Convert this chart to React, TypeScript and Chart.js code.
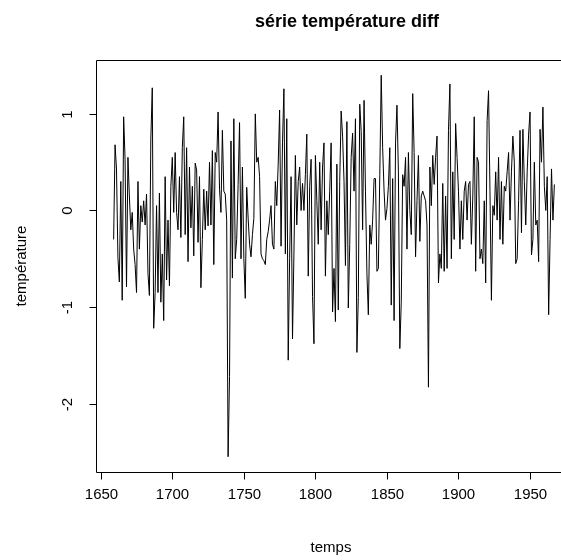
import React, { useEffect, useRef } from "react";
import { Chart, registerables } from "chart.js";

Chart.register(...registerables);

const START_YEAR = 1659;

const tempDiff: number[] = [
  // 1659-1678
  -0.30, 0.68, 0.43, -0.49, -0.74, 0.30, -0.93, 0.97, 0.53, -0.79,
  0.55, 0.15, -0.20, -0.02, -0.40, -0.56, -0.85, 0.30, -0.40, 0.05,
  // 1679-1698
  -0.12, 0.10, -0.15, 0.17, -0.65, -0.88, 0.74, 1.27, -1.22, -0.85,
  0.05, -0.85, 0.18, -0.95, -0.45, -1.14, 0.35, -0.72, -0.10, -0.78,
  // 1699-1718
  0.25, 0.55, -0.02, 0.60, -0.02, -0.20, 0.35, -0.28, 0.65, 0.97,
  -0.25, 0.65, -0.53, 0.45, -0.18, 0.25, -0.47, 0.49, 0.42, -0.33,
  // 1719-1738
  0.35, -0.80, -0.30, 0.22, -0.20, 0.20, -0.16, 0.50, -0.15, 0.62,
  -0.56, 0.60, 0.50, 1.02, 0.22, -0.02, 0.83, 0.20, 0.17, -0.10,
  // 1739-1758
  -2.55, -1.72, 0.72, -0.70, 0.95, -0.50, -0.30, 0.27, 0.91, -0.50,
  0.45, -0.50, -0.91, 0.24, -0.08, -0.35, -0.48, -0.25, -0.08, 1.00,
  // 1759-1778
  0.50, 0.55, 0.35, -0.45, -0.50, -0.52, -0.56, -0.30, -0.22, -0.10,
  0.05, -0.35, -0.40, 0.30, 0.05, 0.48, 1.04, -0.37, 0.70, 1.26,
  // 1779-1798
  -0.45, 0.95, -1.55, -0.50, 0.35, -1.33, -0.45, 0.57, -0.15, 0.30,
  0.45, 0.00, 0.28, 0.00, 0.37, 0.79, -0.68, 0.25, 0.53, -0.89,
  // 1799-1818
  -1.38, 0.57, 0.10, -0.35, 0.50, -0.20, 0.45, 0.70, -0.68, 0.10,
  -0.25, 0.20, 0.70, -1.05, -0.60, -1.15, 0.48, -1.03, 0.30, 1.03,
  // 1819-1838
  0.77, 0.30, -0.57, 0.92, -1.01, -0.35, 0.55, 0.80, 0.20, 0.95,
  -1.47, -0.90, 1.10, 0.82, -0.20, 1.14, 0.20, -0.65, -1.08, -0.15,
  // 1839-1858
  -0.35, -0.10, 0.33, 0.33, -0.63, -0.60, 0.37, 1.40, 0.65, 0.20,
  -0.10, 0.02, 0.25, 0.65, -0.98, 0.33, -1.14, 0.70, 1.09, 0.40,
  // 1859-1878
  -1.43, -0.95, 0.37, 0.25, 0.55, -0.40, 0.60, 0.00, -0.25, 1.21,
  0.60, -0.48, 0.10, 0.57, -0.32, 0.15, 0.20, 0.15, 0.10, -0.15,
  // 1879-1898
  -1.83, 0.45, 0.05, 0.57, 0.27, 0.55, 0.77, -0.75, -0.45, -0.60,
  0.28, -0.63, 0.15, -0.60, 0.83, 1.31, -0.50, 0.40, -0.30, 0.90,
  // 1899-1918
  0.55, 0.20, -0.40, 0.10, -0.30, 0.20, 0.30, -0.10, 0.27, 0.30,
  -0.35, 0.15, 0.97, -0.63, 0.55, 0.50, -0.50, -0.40, -0.55, 0.10,
  // 1919-1938
  -0.75, 0.93, 1.24, 0.20, -0.93, 0.05, -0.05, 0.40, -0.10, 0.55,
  -0.30, 0.30, -0.35, 0.25, 0.20, 0.40, 0.60, -0.10, 0.40, 0.77,
  // 1939-1958
  0.50, -0.55, -0.50, 0.10, 0.83, -0.23, 0.84, 0.30, -0.15, 0.40,
  0.79, 1.02, -0.46, -0.30, 0.50, -0.15, -0.10, -0.53, 0.84, 0.50,
  // 1959-1967
  1.07, 0.25, 0.00, 0.35, -1.08, -0.30, 0.43, -0.10, 0.27,
];

const years: number[] = tempDiff.map((_, i) => START_YEAR + i);

const xTicks = [1650, 1700, 1750, 1800, 1850, 1900, 1950];
const yTicks = [-2, -1, 0, 1];
const yTickLabels = ["-2", "-1", "0", "1"];

const TITLE = "série température diff";
const X_LABEL = "temps";
const Y_LABEL = "température";

const FONT = '"Liberation Sans", Arial, sans-serif';
const CANVAS_W = 600;
const CANVAS_H = 560;

// R-style 4% axis extension
const xMin = Math.min(...years);
const xMax = Math.max(...years);
const yMin = Math.min(...tempDiff);
const yMax = Math.max(...tempDiff);
const xPad = (xMax - xMin) * 0.04;
const yPad = (yMax - yMin) * 0.04;

const rAxesPlugin = {
  id: "rAxes",
  afterDraw(chart: any) {
    const { ctx, chartArea: a, scales } = chart;
    const xs = scales.x;
    const ys = scales.y;
    ctx.save();
    ctx.strokeStyle = "#000";
    ctx.fillStyle = "#000";
    ctx.lineWidth = 1;

    const L = Math.round(a.left) + 0.5;
    const R = Math.round(a.right) + 0.5;
    const T = Math.round(a.top) + 0.5;
    const B = Math.round(a.bottom) + 0.5;
    ctx.beginPath();
    ctx.rect(L, T, R - L, B - T);
    ctx.stroke();

    // x axis ticks + labels
    ctx.font = `15px ${FONT}`;
    ctx.textAlign = "center";
    ctx.textBaseline = "middle";
    xTicks.forEach((t) => {
      const px = Math.round(xs.getPixelForValue(t)) + 0.5;
      ctx.beginPath();
      ctx.moveTo(px, B);
      ctx.lineTo(px, B + 7);
      ctx.stroke();
      ctx.fillText(String(t), px, B + 22);
    });

    // y axis ticks + rotated labels
    yTicks.forEach((t, i) => {
      const py = Math.round(ys.getPixelForValue(t)) + 0.5;
      ctx.beginPath();
      ctx.moveTo(L, py);
      ctx.lineTo(L - 7, py);
      ctx.stroke();
      ctx.save();
      ctx.translate(L - 29, py);
      ctx.rotate(-Math.PI / 2);
      ctx.fillText(yTickLabels[i], 0, 0);
      ctx.restore();
    });

    // axis titles
    ctx.fillText(X_LABEL, 331, 548);
    ctx.save();
    ctx.translate(22, (a.top + a.bottom) / 2);
    ctx.rotate(-Math.PI / 2);
    ctx.fillText(Y_LABEL, 0, 0);
    ctx.restore();

    // main title
    ctx.font = `bold 18px ${FONT}`;
    ctx.fillText(TITLE, 347, 22);
    ctx.restore();
  },
};

export default function App() {
  const canvasRef = useRef<HTMLCanvasElement | null>(null);

  useEffect(() => {
    const canvas = canvasRef.current;
    if (!canvas) return;
    const chart = new Chart(canvas, {
      type: "line",
      data: {
        datasets: [
          {
            data: tempDiff.map((v, i) => ({ x: years[i], y: v })),
            borderColor: "#000",
            borderWidth: 1,
            pointRadius: 0,
            tension: 0,
            fill: false,
          },
        ],
      },
      options: {
        animation: false,
        responsive: false,
        devicePixelRatio: 1,
        layout: { padding: { left: 96, right: CANVAS_W - 572, top: 60, bottom: CANVAS_H - 472 } },
        plugins: { legend: { display: false }, tooltip: { enabled: false }, title: { display: false } },
        scales: {
          x: { type: "linear", display: false, min: xMin - xPad, max: xMax + xPad },
          y: { type: "linear", display: false, min: yMin - yPad, max: yMax + yPad },
        },
      },
      plugins: [rAxesPlugin],
    });
    return () => chart.destroy();
  }, []);

  return (
    <div
      style={{
        position: "fixed",
        left: 0,
        top: 0,
        width: 561,
        height: 560,
        overflow: "hidden",
        background: "#fff",
      }}
    >
      <canvas ref={canvasRef} width={CANVAS_W} height={CANVAS_H} style={{ display: "block" }} />
    </div>
  );
}
